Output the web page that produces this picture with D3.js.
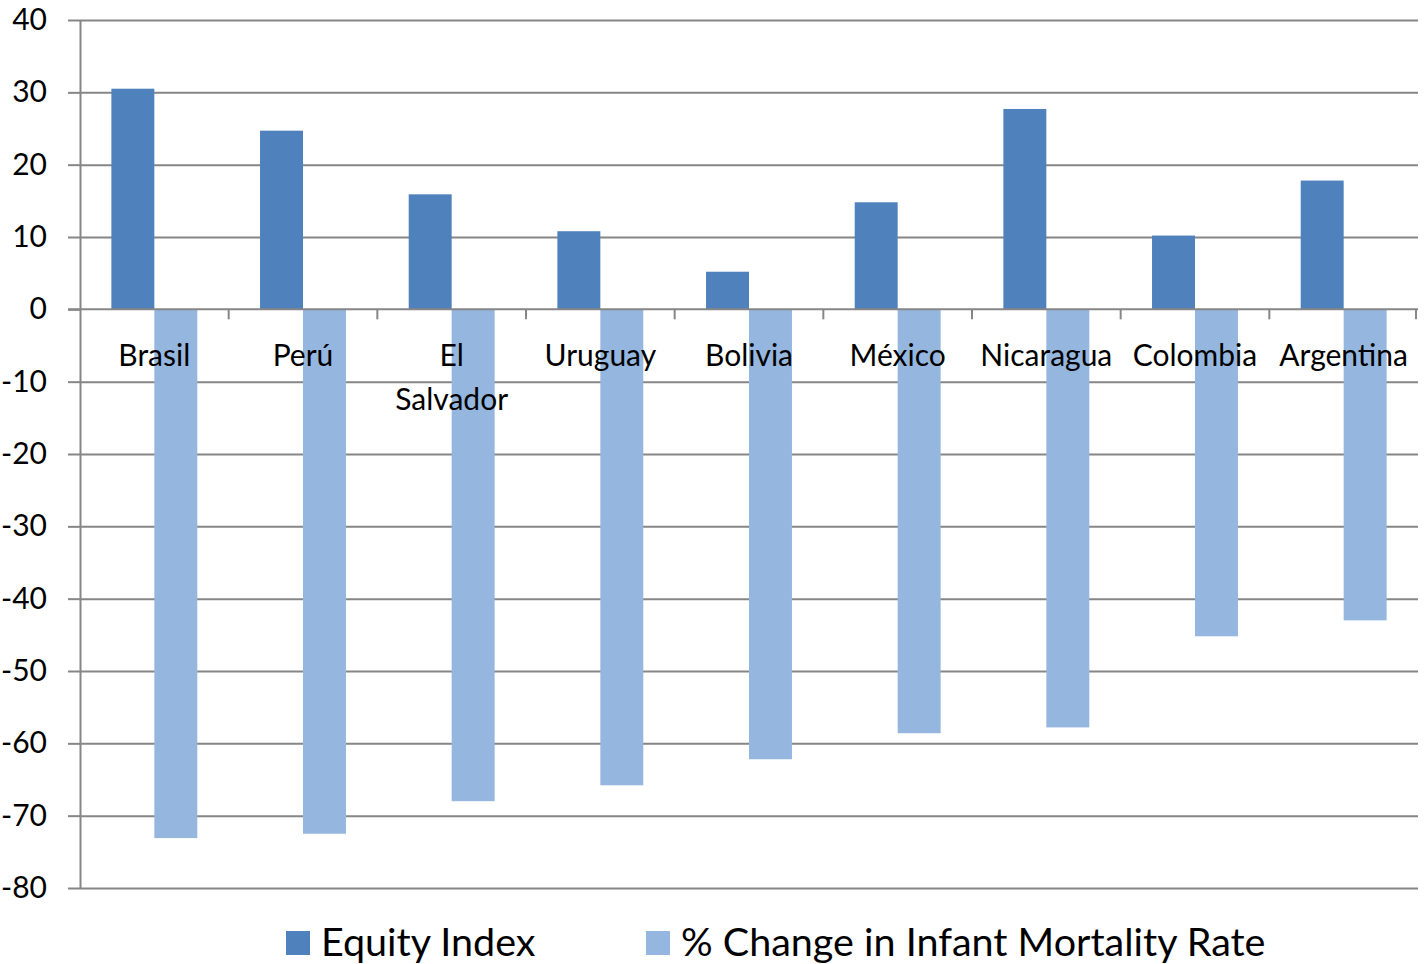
<!DOCTYPE html>
<html>
<head>
<meta charset="utf-8">
<script src="https://cdn.jsdelivr.net/npm/d3@7"></script>
<style>
  body { margin: 0; background: #fff; }
  text { font-family: Lato, "Open Sans", sans-serif; fill: #000; }
</style>
</head>
<body>
<div id="chart"></div>
<script>
// data
var countries = ['Brasil', 'Perú', 'El Salvador', 'Uruguay', 'Bolivia', 'México', 'Nicaragua', 'Colombia', 'Argentina'];
var equityIndex = [30.5, 24.7, 15.9, 10.8, 5.2, 14.8, 27.7, 10.2, 17.8];
var mortalityChange = [-73.1, -72.5, -68, -65.8, -62.2, -58.6, -57.8, -45.2, -43];
var yTicks = [40, 30, 20, 10, 0, -10, -20, -30, -40, -50, -60, -70, -80];
var seriesNames = ['Equity Index', '% Change in Infant Mortality Rate'];
var colors = ['#4f81bd', '#95b7df'];

var svgWidth = 1424;
var svgHeight = 964;
var plotLeft = 80, plotRight = 1418, plotTop = 20, plotBottom = 888;

var svg = d3.select('#chart')
  .append('svg')
  .attr('width', svgWidth)
  .attr('height', svgHeight);

var x = d3.scaleBand()
  .domain(countries)
  .range([plotLeft, plotRight]);

var xInner = d3.scaleBand()
  .domain([0, 1])
  .range([0, x.bandwidth()])
  .paddingInner(0)
  .paddingOuter(0.73);

var y = d3.scaleLinear()
  .domain([-80, 40])
  .range([plotBottom, plotTop]);

// gridlines + y axis
var leftAxis = d3.axisLeft(y)
  .tickValues(yTicks)
  .tickFormat(function(d) { return String(d); })
  .tickSize(12)
  .tickPadding(21)
  .tickSizeOuter(0);

var yAxis = svg.append('g')
  .attr('transform', 'translate(' + plotLeft + ',0)')
  .call(leftAxis);
yAxis.select('.domain').attr('stroke', '#868686').attr('stroke-width', 2);
yAxis.selectAll('.tick line').attr('stroke', '#868686').attr('stroke-width', 2);
yAxis.selectAll('.tick text')
  .style('font-size', '30px')
  .attr('fill', '#000');

yAxis.selectAll('.tick')
  .filter(function(d) { return d !== 0; })
  .append('line')
  .attr('x1', 0)
  .attr('x2', plotRight - plotLeft)
  .attr('stroke', '#868686')
  .attr('stroke-width', 2);

// bars
var series = [equityIndex, mortalityChange];
var groups = svg.append('g')
  .selectAll('g')
  .data(series)
  .enter()
  .append('g')
  .attr('fill', function(d, i) { return colors[i]; });

groups.each(function(vals, si) {
  d3.select(this).selectAll('rect')
    .data(vals)
    .enter()
    .append('rect')
    .attr('x', function(d, i) { return x(countries[i]) + xInner(si); })
    .attr('width', xInner.bandwidth())
    .attr('y', function(d) { return y(Math.max(0, d)); })
    .attr('height', function(d) { return Math.abs(y(d) - y(0)); });
});

// category axis at zero
var bottomAxis = d3.axisBottom(x)
  .tickSize(0)
  .tickFormat('');
var xAxis = svg.append('g')
  .attr('transform', 'translate(0,' + y(0) + ')')
  .call(bottomAxis);
xAxis.select('.domain').remove();
xAxis.append('line')
  .attr('x1', plotLeft - 12)
  .attr('x2', plotRight)
  .attr('stroke', '#868686')
  .attr('stroke-width', 2);

var boundaries = countries.map(function(c) { return x(c) + x.bandwidth(); });
xAxis.selectAll('.sep')
  .data(boundaries)
  .enter()
  .append('line')
  .attr('class', 'sep')
  .attr('x1', function(d) { return d >= plotRight ? d - 2 : d; })
  .attr('x2', function(d) { return d >= plotRight ? d - 2 : d; })
  .attr('y1', 0)
  .attr('y2', 10)
  .attr('stroke', '#868686')
  .attr('stroke-width', 2);

// category labels, wrapped where the picture wraps them
var labelLines = countries.map(function(c) {
  return c === 'El Salvador' ? ['El', 'Salvador'] : [c];
});
var labels = svg.append('g')
  .selectAll('text')
  .data(countries)
  .enter()
  .append('text')
  .attr('text-anchor', 'middle')
  .style('font-size', '30px')
  .attr('x', function(d) { return x(d) + x.bandwidth() / 2; })
  .attr('y', y(0) + 57);
labels.each(function(d, i) {
  var t = d3.select(this);
  labelLines[i].forEach(function(line, j) {
    t.append('tspan')
      .attr('x', x(d) + x.bandwidth() / 2)
      .attr('dy', j === 0 ? 0 : 44)
      .text(line);
  });
});

// legend
var legendX = [286, 646];
var legend = svg.append('g')
  .selectAll('g')
  .data(seriesNames)
  .enter()
  .append('g')
  .attr('transform', function(d, i) { return 'translate(' + legendX[i] + ',931)'; });
legend.append('rect')
  .attr('width', 24)
  .attr('height', 24)
  .attr('fill', function(d, i) { return colors[i]; });
legend.append('text')
  .attr('x', 35)
  .attr('y', 25)
  .style('font-size', '39.5px')
  .text(function(d) { return d; });
</script>
</body>
</html>
